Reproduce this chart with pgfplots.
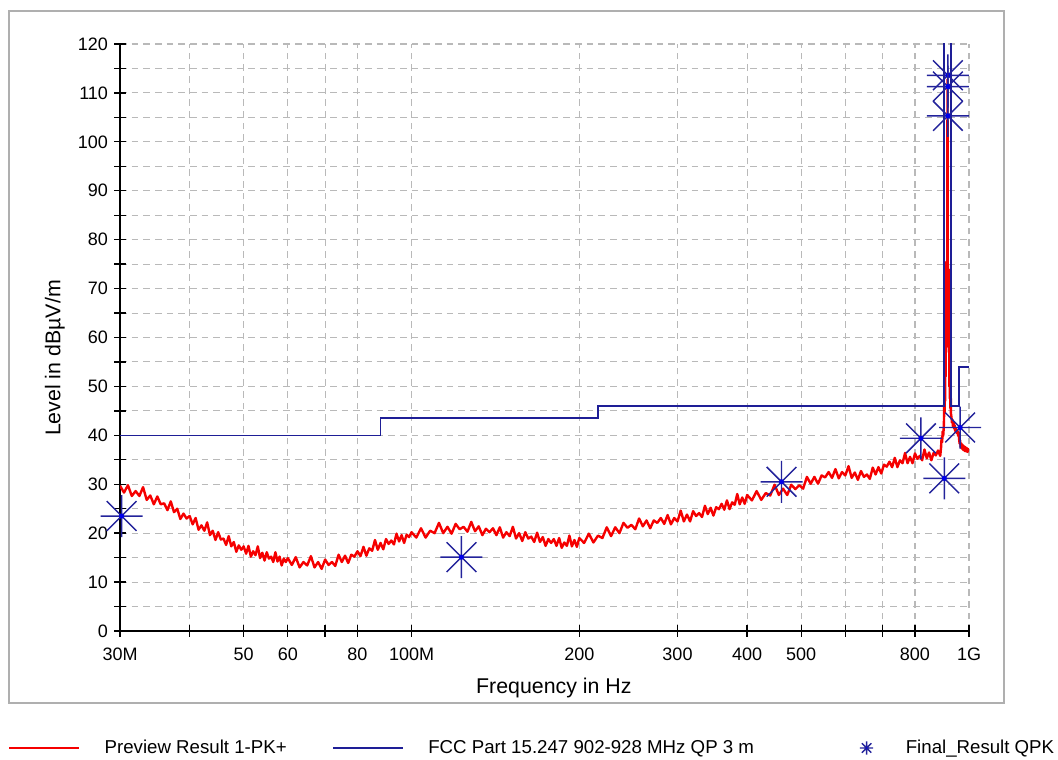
\documentclass[border=0pt]{standalone}
\usepackage{pgfplots}
\pgfplotsset{compat=1.18}
\usepackage{fontspec}
\setmainfont{Liberation Sans}

\definecolor{limitblue}{RGB}{30,30,150}
\definecolor{starblue}{RGB}{35,35,155}
\definecolor{dotblue}{RGB}{0,0,235}
\definecolor{tracered}{RGB}{245,0,0}
\definecolor{gridgray}{RGB}{185,185,185}
\definecolor{framegray}{RGB}{175,175,175}

% eight-armed asterisk with a filled centre dot
\pgfdeclareplotmark{star8}{%
  \pgfpathmoveto{\pgfqpoint{-\pgfplotmarksize}{0pt}}%
  \pgfpathlineto{\pgfqpoint{\pgfplotmarksize}{0pt}}%
  \pgfpathmoveto{\pgfqpoint{0pt}{-\pgfplotmarksize}}%
  \pgfpathlineto{\pgfqpoint{0pt}{\pgfplotmarksize}}%
  \pgfpathmoveto{\pgfqpoint{-0.7071\pgfplotmarksize}{-0.7071\pgfplotmarksize}}%
  \pgfpathlineto{\pgfqpoint{0.7071\pgfplotmarksize}{0.7071\pgfplotmarksize}}%
  \pgfpathmoveto{\pgfqpoint{-0.7071\pgfplotmarksize}{0.7071\pgfplotmarksize}}%
  \pgfpathlineto{\pgfqpoint{0.7071\pgfplotmarksize}{-0.7071\pgfplotmarksize}}%
  \pgfusepathqstroke
  \pgfpathcircle{\pgfpointorigin}{0.12\pgfplotmarksize}%
  \pgfusepathqfill
}

% legend samples: a line, or a single mark, followed by a fixed gap
\pgfplotsset{
  lineleg/.style={legend image code/.code={%
    \draw[##1, line width=1.2pt] (0pt,0pt) -- (52.5pt,0pt); \path (0pt,0pt) (70.5pt,0pt);}},
  markleg/.style={legend image code/.code={%
    \draw[##1, mark size=5pt] plot coordinates {(41.25pt,0pt)}; \path (0pt,0pt) (70.5pt,0pt);}},
}

\begin{document}
\begin{tikzpicture}
% page size and outer frame
\useasboundingbox (-90pt,-96.75pt) rectangle (703.5pt,473.25pt);
\draw[framegray, line width=1.2pt] (-83.25pt,-54pt) rectangle (663pt,465pt);

\begin{axis}[
  scale only axis,
  width=636.75pt, height=440.25pt,
  xmode=log, log basis x=10,
  xmin=30, xmax=1000, ymin=0, ymax=120,
  axis x line=bottom, axis y line=left,
  axis line style={-, black, line width=1.4pt},
  xtick={30,40,50,60,70,80,100,200,300,400,500,600,700,800,1000},
  xticklabels={30M,,50,60,,80,100M,200,300,400,500,,,800,1G},
  minor xtick={},
  ytick={0,5,...,120},
  yticklabels={0,,10,,20,,30,,40,,50,,60,,70,,80,,90,,100,,110,,120},
  tick align=center, major tick length=9pt,
  tick style={black, line width=1pt},
  grid=major,
  major grid style={gridgray, line width=0.8pt, dash pattern=on 5pt off 3.75pt},
  ticklabel style={font=\fontsize{13.5}{16}\selectfont},
  xticklabel style={yshift=-5pt},
  yticklabel style={xshift=-1pt},
  /pgf/number format/assume math mode=true,
  xlabel={Frequency in Hz},
  ylabel={Level in dBµV/m},
  label style={font=\fontsize{16}{19}\selectfont},
  xlabel style={at={(axis description cs:0.511,-0.097)}, anchor=center},
  ylabel style={at={(axis description cs:-0.0766,0.465)}, anchor=center},
  legend columns=3,
  legend cell align=left,
  legend style={at={(-0.1319,-0.1993)}, anchor=west, draw=none, fill=none,
    inner sep=0pt, column sep=0pt, nodes={inner sep=0pt},
    font=\fontsize{14}{17}\selectfont},
]

% Preview Result 1-PK+ (peak detector sweep)
\addplot[tracered, line width=1.8pt, line join=round, mark=none, lineleg]
coordinates {
(30.0,29.7) (30.5,28.3) (31.0,29.8) (31.5,27.6) (32.0,28.6) (32.5,27.6) (33.0,29.4) (33.5,26.8)
(34.0,27.7) (34.5,25.9) (35.0,27.5) (35.5,25.9) (36.0,26.1) (36.5,24.7) (37.0,26.5) (37.5,24.3)
(38.0,25.0) (38.5,22.9) (39.0,24.0) (39.5,23.0) (40.0,23.5) (40.5,21.8) (41.0,23.1) (41.5,20.7)
(42.0,21.6) (42.5,20.5) (43.0,22.2) (43.5,19.6) (44.0,20.5) (44.5,18.6) (45.0,20.2) (45.5,18.7)
(46.0,18.9) (46.5,17.6) (47.0,19.4) (47.5,17.3) (48.0,18.2) (48.5,16.2) (49.0,17.5) (49.5,16.6)
(50.0,17.3) (50.5,15.8) (51.0,17.4) (51.5,15.2) (52.0,16.3) (52.5,15.5) (53.0,17.3) (53.5,14.9)
(54.0,16.0) (54.5,14.4) (55.0,16.1) (55.5,14.8) (56.0,15.2) (56.5,14.1) (57.0,16.1) (57.5,14.2)
(58.0,15.2) (58.5,13.4) (59.0,14.8) (59.5,14.1)
(60,14.9) (61,13.5) (62,15.1) (63,13.0) (64,14.1) (65,13.4) (66,15.3) (67,13.0) (68,14.1) (69,12.7)
(70,14.6) (71,13.5) (72,14.1) (73,13.3) (74,15.6) (75,14.1) (76,15.4) (77,13.9) (78,15.6) (79,15.2)
(80,16.3) (81,15.3) (82,17.2) (83,15.4) (84,16.9) (85,16.4) (86,18.6) (87,16.6) (88,18.0) (89,16.7)
(90,18.8) (91,17.8) (92,18.5) (93,17.7) (94,19.9) (95,18.3) (96,19.6) (97,18.0) (98,19.7) (99,19.2)
(100,20.2) (102,19.1) (104,21.0) (106,19.1) (108,20.5) (110,20.0) (112,22.1) (114,20.0) (116,21.3) (118,19.9)
(120,21.9) (122,20.8) (124,21.3) (126,20.3) (128,22.3) (130,20.4) (132,21.4) (134,19.6) (136,20.9) (138,20.2)
(140,21.0) (142,19.6) (144,21.2) (146,19.1) (148,20.2) (150,19.4) (152,21.3) (154,18.9) (156,20.0) (158,18.4)
(160,20.2) (162,18.9) (164,19.3) (166,18.2) (168,20.1) (170,18.2) (172,19.2) (174,17.4) (176,18.8) (178,18.0)
(180,18.8) (182,17.4) (184,19.0) (186,17.0) (188,18.1) (190,17.4) (192,19.5) (194,17.3) (196,18.6) (198,17.2)
(200,19.0) (204,18.0) (208,19.9) (212,18.1) (216,19.5) (220,19.0) (224,21.2) (228,19.4) (232,21.2) (236,20.0)
(240,22.1) (244,21.1) (248,21.7) (252,20.8) (256,23.0) (260,21.4) (264,22.6) (268,21.0) (272,22.6) (276,22.1)
(280,23.1) (284,21.9) (288,23.7) (292,21.8) (296,23.1) (300,22.4) (304,24.6) (308,22.4) (312,23.8) (316,22.4)
(320,24.5) (324,23.5) (328,24.1) (332,23.3) (336,25.6) (340,23.9) (344,25.2) (348,23.6) (352,25.3) (356,24.9)
(360,26.0) (364,24.8) (368,26.7) (372,24.9) (376,26.3) (380,25.8) (384,28.0) (388,25.9) (392,27.3) (396,26.0)
(400,27.8) (408,26.7) (416,28.6) (424,26.8) (432,28.2) (440,27.7) (448,29.9) (456,27.8) (464,29.1) (472,27.8)
(480,29.9) (488,29.0) (496,29.8) (504,29.1) (512,31.5) (520,30.1) (528,31.5) (536,30.1) (544,31.8) (552,31.4)
(560,32.5) (568,31.3) (576,33.1) (584,31.2) (592,32.5) (600,31.8) (608,33.7) (616,31.3) (624,32.4) (632,30.9)
(640,32.7) (648,31.5) (656,32.0) (664,31.1) (672,33.4) (680,32.0) (688,33.5) (696,32.2) (704,34.0) (712,33.6)
(720,34.6) (728,33.5) (736,35.4) (744,33.5) (752,34.9) (760,34.3) (768,36.4) (776,34.3) (784,35.6) (792,34.3)
(800,36.3) (808,35.2) (816,35.8) (824,34.9) (832,37.1) (840,35.3) (848,36.5) (856,34.9) (864,36.4) (872,35.9)
(880,36.9) (888,35.8)
(891,37.5) (893,39.5) (895,38.6) (897,40.8) (899,39.9) (901,41.6) (902,43.5) (903,48.0) (904,44.5)
(905,60.0) (906,47.0) (907,70.5) (908,52.0) (909,74.5) (910,58.0) (911,75.5) (912,63.0) (913,73.0)
(914,66.0) (915,112.8) (916,71.0) (917,75.0) (918,62.0) (919,74.0) (920,57.0) (921,72.5) (922,50.0)
(923,68.0) (924,47.5) (925,60.0) (926,45.5) (927,52.0) (928,44.5)
(930,43.8) (932,42.6) (934,43.2) (936,41.8) (938,42.7) (940,41.4) (942,42.1) (944,40.9) (946,41.6)
(948,40.6) (950,41.2) (952,40.4) (954,40.9) (956,39.9) (958,40.6) (960,39.2) (962,38.3) (964,39.0)
(966,37.6) (968,38.4) (970,37.3) (973,38.1) (976,37.0) (979,37.8) (982,36.8) (985,37.6) (988,36.7)
(991,37.4) (994,36.6) (997,37.2) (1000,36.9)
};
\addlegendentry{\makebox[171pt][l]{Preview Result 1-PK+}}

% FCC Part 15.247 limit line
\addplot[limitblue, line width=1.2pt, mark=none, lineleg]
coordinates {
(30,40) (88,40) (88,43.5) (216,43.5) (216,46) (902,46) (902,130)
(928,130) (928,46) (960,46) (960,54) (1000,54)
};
\addlegendentry{\makebox[287.25pt][l]{FCC Part 15.247 902-928 MHz QP 3 m}}

% quasi-peak final measurements
\addplot[only marks, mark=star8, mark size=15.75pt,
  mark options={draw=starblue, fill=dotblue, line width=1.1pt}, markleg]
coordinates {
(30.2,23.5) (122.9,15.1) (461,30.5) (820,39.4) (903,31.2) (964,41.6)
(916.5,113.6) (916.5,111.3) (916.5,105.3)
};
\addlegendentry{Final\_Result QPK}

\end{axis}
\end{tikzpicture}
\end{document}
